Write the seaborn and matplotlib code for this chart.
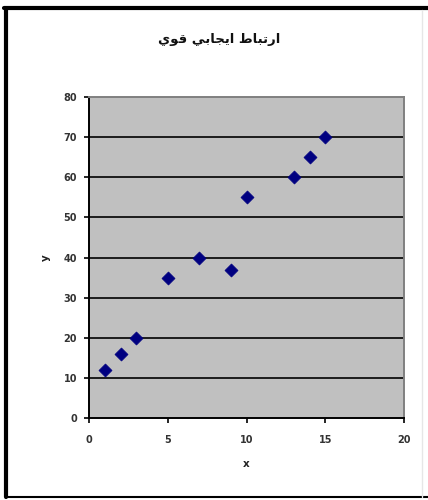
import matplotlib
matplotlib.use("Agg")
import matplotlib.pyplot as plt
from matplotlib.lines import Line2D
import seaborn as sns
import pandas as pd

# data
x_vals = [1, 2, 3, 5, 7, 9, 10, 13, 14, 15]
y_vals = [12, 16, 20, 35, 40, 37, 55, 60, 65, 70]
x_ticks = [0, 5, 10, 15, 20]
y_ticks = [0, 10, 20, 30, 40, 50, 60, 70, 80]
# "ارتباط ايجابي قوي" written in shaped presentation forms, visual order
title_text = ("\uFEF1\uFEEE\uFED7 "
              "\uFEF2\uFE91\uFE8E\uFEA0\uFEF3\uFE8D "
              "\uFEC1\uFE8E\uFE92\uFE97\uFEAD\uFE8D")

df = pd.DataFrame({"x": x_vals, "y": y_vals})

sns.set_style("white")
plt.rcParams["font.family"] = ["Liberation Sans", "DejaVu Sans"]

fig = plt.figure(figsize=(4.28, 5.00), dpi=100)
ax = fig.add_axes([89 / 428, 1 - 418 / 500, 315 / 428, 321 / 500])
ax.set_facecolor("#C0C0C0")

sns.scatterplot(data=df, x="x", y="y", ax=ax, marker="D", s=44,
                color="#000080", edgecolor="#000080", linewidth=0.5,
                zorder=3, legend=False)

ax.set_xlim(0, 20)
ax.set_ylim(0, 80)
ax.set_xticks(x_ticks)
ax.set_yticks(y_ticks)
ax.set_xticklabels([str(t) for t in x_ticks])
ax.set_yticklabels([str(t) for t in y_ticks])

for t in y_ticks[1:-1]:
    ax.axhline(t, color="black", lw=1.2, zorder=1)

for side in ("left", "bottom"):
    ax.spines[side].set_color("black")
    ax.spines[side].set_linewidth(1.4)
for side in ("top", "right"):
    ax.spines[side].set_color("#808080")
    ax.spines[side].set_linewidth(1.4)
    ax.spines[side].set_visible(True)

ax.tick_params(axis="both", direction="out", length=3.5, width=1.2,
               color="black", labelsize=7, labelcolor="#333333")
ax.tick_params(axis="y", pad=5, left=True)
ax.tick_params(axis="x", pad=9, bottom=True)
for lab in ax.get_xticklabels() + ax.get_yticklabels():
    lab.set_fontweight("bold")
    lab.set_family(["DejaVu Sans"])

ax.set_xlabel("x", fontsize=7.5, fontweight="bold", color="#222222", labelpad=10,
              family=["DejaVu Sans"])
ax.set_ylabel("y", fontsize=7.5, fontweight="bold", color="#222222", labelpad=9,
              family=["DejaVu Sans"])

fig.text(0.512, 1 - 40 / 500, title_text, ha="center", va="center",
         fontsize=9.5, fontweight="bold", family=["DejaVu Sans"], color="#111111")

# chart area frame
W, H = 428, 500
fig.add_artist(Line2D([6 / W, 6 / W], [1 - 8 / H, 1 - 497 / H], transform=fig.transFigure,
                      color="black", lw=3.0))
fig.add_artist(Line2D([4 / W, 428 / W], [1 - 8 / H, 1 - 8 / H], transform=fig.transFigure,
                      color="black", lw=3.0))
fig.add_artist(Line2D([6 / W, 428 / W], [1 - 497 / H, 1 - 497 / H], transform=fig.transFigure,
                      color="black", lw=1.5))
fig.add_artist(Line2D([421.5 / W, 421.5 / W], [1 - 10 / H, 1 - 497 / H], transform=fig.transFigure,
                      color="#E6E6E6", lw=1.0))

fig.savefig("out.png", dpi=100)
